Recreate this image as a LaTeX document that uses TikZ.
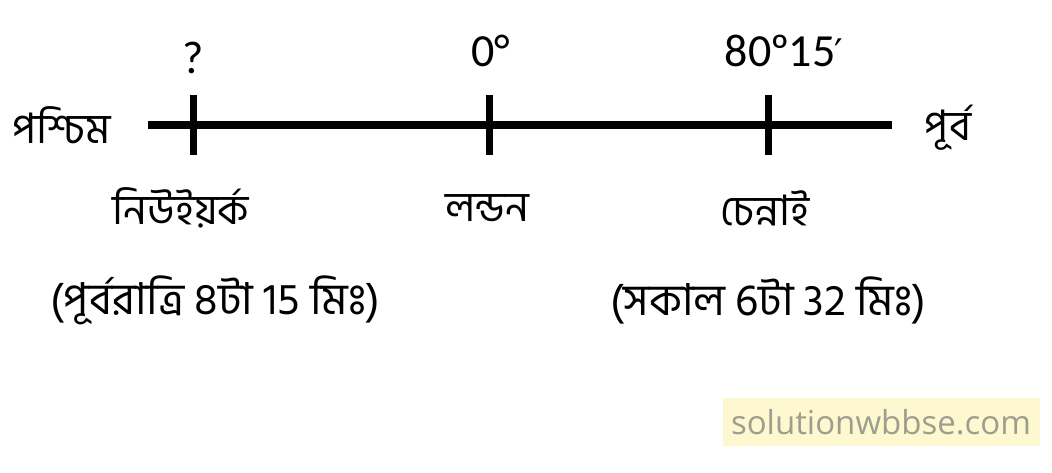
\documentclass[tikz,border=0pt]{standalone}
\usepackage{fontspec}
\setmainfont{Carlito}
\newfontfamily\bn[Script=Bengali]{Hind Siliguri}
\newfontfamily\wm{Open Sans}
\newfontfamily\djvfont{DejaVu Sans}
\definecolor{wmfill}{HTML}{FDF8CF}
\definecolor{wmtext}{HTML}{9E9E8E}
\tikzset{
  axis/.style={line width=8pt},
  tick/.style={line width=7pt},
  lab/.style={inner sep=0pt, font=\fontsize{46}{50}\selectfont},
  blab/.style={inner sep=0pt, font=\bn\fontsize{42}{48}\selectfont},
  tlab/.style={inner sep=0pt, font=\bn\fontsize{44}{50}\selectfont},
}
\begin{document}
\begin{tikzpicture}[x=1pt,y=-1pt]
\useasboundingbox (0,0) rectangle (1052,472);
\coordinate (L) at (148,125);
\coordinate (R) at (892,125);
\draw[axis] (L) -- (R);
\coordinate (ny) at (193,125);
\coordinate (ld) at (489,125);
\coordinate (ch) at (768,125);
\foreach \p in {ny,ld,ch}{
  \draw[tick] ([yshift=-30pt]\p) -- ([yshift=30pt]\p);
}
\node[lab, anchor=base] (q) at (193,73) {?};
\node[lab, anchor=base] (z) at (491,66) {0°};
\node[lab, anchor=base] (e) at (784,66) {80\kern-1ptº\kern-1pt15{\djvfont\fontsize{38}{40}\selectfont\kern-1pt′}};
\node[blab] (w) at (62,125) {পশ্চিম};
\node[blab] (east) at (948,128) {পূর্ব};
\node[blab] (nyl) at (181,208) {নিউইয়র্ক};
\node[blab] (ldl) at (487,208) {লন্ডন};
\node[blab] (chl) at (765,208) {চেন্নাই};
\node[tlab] (t1) at (215,300) {(পূর্বরাত্রি 8টা 15 মিঃ)};
\node[tlab] (t2) at (768,300) {(সকাল 6টা 32 মিঃ)};
\node[fill=wmfill, minimum width=317pt, minimum height=48pt, inner sep=0pt, text=wmtext, font=\wm\fontsize{33}{36}\selectfont] (wmk) at (881,422) {solutionwbbse.com};
\end{tikzpicture}
\end{document}
